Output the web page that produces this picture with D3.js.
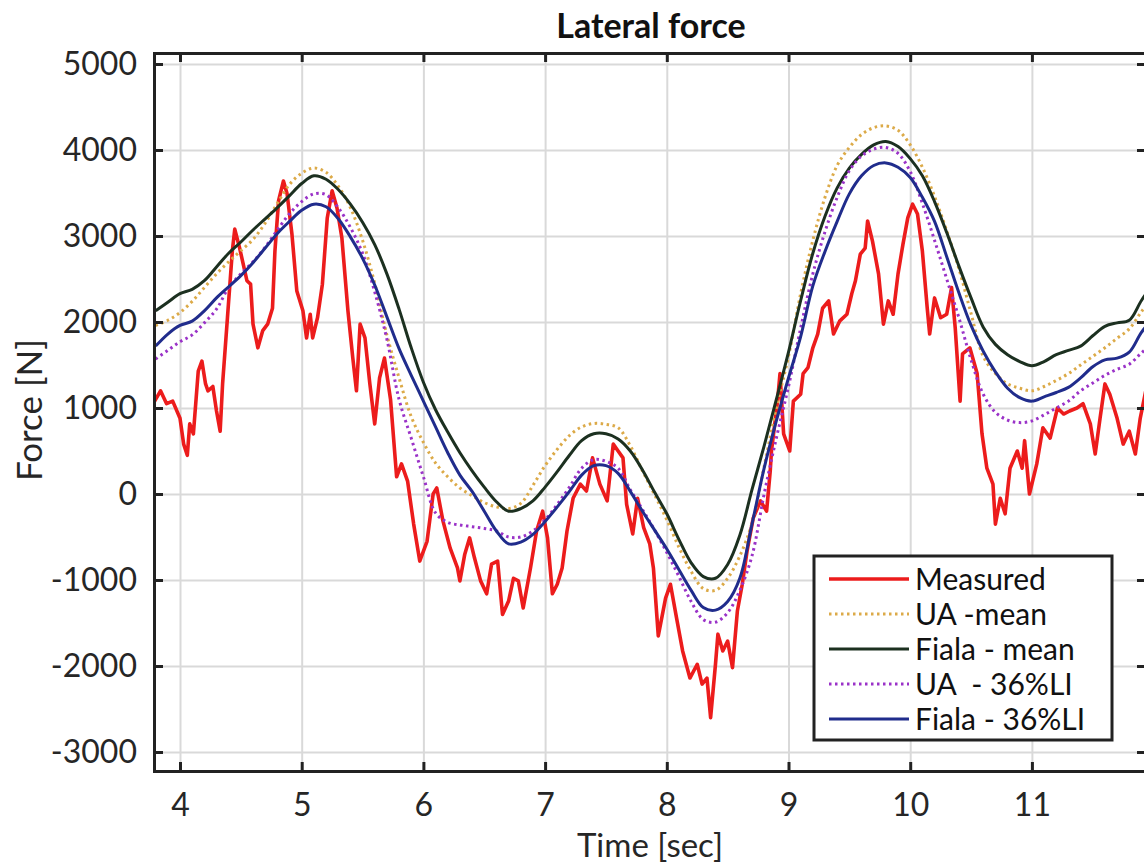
<!DOCTYPE html>
<html lang="en">
<head>
<meta charset="utf-8">
<title>Lateral force</title>
<script src="https://cdn.jsdelivr.net/npm/d3@7"></script>
<style>
body { margin: 0; background: #fff; }
text { font-family: Lato, "Open Sans", sans-serif; fill: #262626; }
.grid line { stroke: #d9d9d9; stroke-width: 2; }
.grid path { display: none; }
.axis path { stroke: #222; stroke-width: 3; }
.axis line { stroke: #222; stroke-width: 3; }
.legend text { white-space: pre; }
</style>
</head>
<body>
<div id="chart"></div>
<script>

// model curves, sampled every 0.1 s
const modelTime = d3.range(38, 121).map(d => d / 10);

const fialaMean = [2130,2230,2330,2380,2480,2640,2800,2930,3070,3200,3330,3470,3610,3700,3660,3540,3370,3160,2900,2560,
  2150,1700,1300,980,720,480,270,80,-90,-200,-170,-80,80,260,450,620,700,700,640,500,
  280,20,-230,-530,-800,-960,-980,-820,-480,50,560,1100,1650,2250,2800,3230,3560,3790,3950,4060,
  4100,4040,3900,3700,3400,3040,2650,2280,1940,1740,1620,1540,1490,1540,1620,1670,1720,1840,1950,1990,
  2020,2250,2450];

const uaMean = [1960,2020,2110,2240,2400,2560,2700,2830,2960,3150,3380,3600,3730,3790,3740,3580,3330,2950,2450,1850,
  1350,900,600,360,200,70,-20,-100,-150,-170,-110,100,330,520,680,780,820,810,770,560,
  270,-10,-300,-620,-900,-1100,-1120,-980,-720,-340,320,1000,1600,2330,2950,3450,3820,4030,4180,4260,
  4280,4230,4060,3800,3460,3060,2620,2100,1600,1400,1280,1230,1200,1250,1320,1400,1500,1600,1700,1810,
  1920,2120,2300];

const fiala36 = [1720,1860,1960,2010,2130,2280,2410,2540,2690,2860,3030,3170,3300,3370,3340,3200,2990,2740,2430,2060,
  1690,1380,1080,780,480,220,30,-200,-430,-580,-560,-470,-320,-150,30,220,330,330,240,30,
  -200,-420,-640,-880,-1120,-1320,-1350,-1250,-980,-350,300,850,1350,1830,2420,2820,3170,3490,3700,3820,
  3850,3800,3680,3450,3170,2760,2340,1960,1660,1420,1230,1120,1080,1130,1180,1240,1350,1480,1560,1580,
  1650,1880,2050];

const ua36 = [1570,1670,1770,1850,1990,2150,2400,2560,2700,2870,3070,3260,3400,3490,3480,3330,3100,2800,2350,1800,
  1100,650,200,-220,-330,-360,-380,-400,-430,-500,-500,-430,-300,-120,80,300,400,380,300,50,
  -180,-420,-680,-960,-1250,-1460,-1490,-1380,-1120,-720,0,650,1250,1930,2560,3050,3450,3760,3930,4010,
  4030,3960,3750,3380,2950,2500,2050,1560,1160,950,860,830,850,920,1000,1080,1200,1290,1380,1450,
  1510,1640,1760];

// measured signal
const measTime = [3.78,3.84,3.89,3.94,4.00,4.03,4.06,4.08,4.11,4.15,4.18,4.21,4.23,4.27,4.30,4.33,4.35,4.39,4.43,4.45,
  4.49,4.55,4.58,4.60,4.64,4.68,4.72,4.76,4.78,4.81,4.85,4.88,4.92,4.96,5.01,5.04,5.07,5.09,5.13,5.17,
  5.21,5.25,5.29,5.33,5.38,5.42,5.45,5.48,5.52,5.56,5.60,5.64,5.68,5.73,5.78,5.82,5.87,5.92,5.97,6.03,
  6.08,6.11,6.16,6.22,6.28,6.30,6.34,6.38,6.42,6.47,6.52,6.56,6.61,6.63,6.65,6.70,6.74,6.78,6.82,6.88,
  6.93,6.98,7.02,7.06,7.10,7.14,7.18,7.23,7.29,7.34,7.39,7.45,7.51,7.56,7.60,7.64,7.67,7.72,7.76,7.81,
  7.86,7.89,7.93,7.99,8.03,8.08,8.13,8.19,8.25,8.29,8.33,8.36,8.40,8.42,8.46,8.50,8.54,8.58,8.62,8.66,
  8.71,8.77,8.82,8.85,8.86,8.91,8.93,8.96,9.01,9.04,9.10,9.12,9.16,9.20,9.24,9.28,9.33,9.37,9.42,9.48,
  9.52,9.55,9.59,9.63,9.65,9.69,9.74,9.78,9.82,9.86,9.90,9.94,9.98,10.02,10.06,10.10,10.14,10.16,10.20,10.25,
  10.30,10.34,10.37,10.41,10.43,10.49,10.55,10.59,10.63,10.68,10.70,10.74,10.78,10.82,10.88,10.92,10.94,10.98,11.04,11.09,
  11.15,11.21,11.26,11.31,11.37,11.42,11.48,11.52,11.56,11.60,11.64,11.70,11.75,11.80,11.85,11.89,11.95];

const measForce = [1050,1200,1050,1080,880,580,450,815,700,1430,1545,1280,1200,1250,965,730,1280,2050,2825,3080,
  2860,2480,2440,1975,1700,1900,1975,2160,2825,3410,3640,3490,3020,2360,2130,1815,2090,1815,2050,2440,
  3210,3525,3325,2980,2130,1580,1200,1975,1815,1280,815,1350,1580,1100,200,350,150,-350,-780,-550,
  0,70,-310,-630,-860,-1010,-700,-510,-745,-1010,-1160,-815,-780,-1090,-1400,-1245,-980,-1010,-1325,-860,
  -430,-200,-510,-1160,-1050,-860,-430,-50,115,35,420,115,-80,580,500,420,-120,-465,-50,-390,
  -580,-860,-1650,-1210,-1050,-1440,-1825,-2140,-1980,-2210,-2140,-2600,-1980,-1630,-1825,-1710,-2020,-1360,-1050,-660,
  -280,-80,-200,270,500,1080,1400,700,500,1080,1160,1400,1470,1700,1860,2160,2245,1860,2010,2090,
  2330,2480,2790,2860,3175,2940,2560,1975,2245,2090,2560,2900,3210,3370,3255,2825,2160,1860,2280,2050,
  2090,2400,1930,1080,1630,1700,1400,700,300,115,-350,-50,-230,300,500,300,620,0,350,770,
  650,1000,930,965,1000,1050,815,465,880,1280,1160,880,580,730,465,880,1300];

const xTicks = [4, 5, 6, 7, 8, 9, 10, 11];
const yTicks = [-3000, -2000, -1000, 0, 1000, 2000, 3000, 4000, 5000];

const seriesNames = ["Measured", "UA -mean", "Fiala - mean", "UA  - 36%LI", "Fiala - 36%LI"];

const W = 1144, H = 863;
const margin = { top: 53, right: -2, bottom: 92, left: 154 };
const w = W - margin.left - margin.right,
      h = H - margin.top - margin.bottom;

const svg = d3.select("#chart").append("svg")
    .attr("width", W)
    .attr("height", H);

const g = svg.append("g")
    .attr("transform", "translate(" + margin.left + "," + margin.top + ")");

const x = d3.scaleLinear().domain([3.7864, 11.9375]).range([0, w]);
const y = d3.scaleLinear().domain([-3221, 5128]).range([h, 0]);

// grid
g.append("g").attr("class", "grid")
    .attr("transform", "translate(0," + h + ")")
    .call(d3.axisBottom(x).tickValues(xTicks).tickSize(-h).tickFormat(""));
g.append("g").attr("class", "grid")
    .call(d3.axisLeft(y).tickValues(yTicks).tickSize(-w).tickFormat(""));

g.append("clipPath").attr("id", "clip")
  .append("rect").attr("width", w).attr("height", h);

const plot = g.append("g").attr("clip-path", "url(#clip)");

const line = d3.line()
    .x(d => x(d[0]))
    .y(d => y(d[1]));

const smooth = d3.line()
    .x(d => x(d[0]))
    .y(d => y(d[1]))
    .curve(d3.curveCatmullRom);

const series = [
  { name: seriesNames[0], color: "#ec1c1c", width: 3.6, dash: null,
    pts: d3.zip(measTime, measForce), gen: line },
  { name: seriesNames[1], color: "#dcaa48", width: 3, dash: "2.5 3.5",
    pts: d3.zip(modelTime, uaMean), gen: smooth },
  { name: seriesNames[2], color: "#1c3020", width: 3, dash: null,
    pts: d3.zip(modelTime, fialaMean), gen: smooth },
  { name: seriesNames[3], color: "#9a32c8", width: 3, dash: "2.5 3.5",
    pts: d3.zip(modelTime, ua36), gen: smooth },
  { name: seriesNames[4], color: "#202c8c", width: 3, dash: null,
    pts: d3.zip(modelTime, fiala36), gen: smooth }
];

series.forEach(s => {
  plot.append("path")
      .attr("d", s.gen(s.pts))
      .attr("fill", "none")
      .attr("stroke", s.color)
      .attr("stroke-width", s.width)
      .attr("stroke-linejoin", "round")
      .attr("stroke-dasharray", s.dash);
});

// axes, ticks pointing inward
const fmt = d => String(d);
const ax = g.append("g").attr("class", "axis")
    .attr("transform", "translate(0," + h + ")")
    .call(d3.axisBottom(x).tickValues(xTicks).tickSize(-9).tickPadding(22).tickFormat(fmt));
ax.selectAll("text").style("font-size", "32px");

const ay = g.append("g").attr("class", "axis")
    .call(d3.axisLeft(y).tickValues(yTicks).tickSize(-9).tickPadding(17).tickFormat(fmt));
ay.selectAll("text").style("font-size", "32px");

g.append("g").attr("class", "axis")
    .call(d3.axisTop(x).tickValues(xTicks).tickSize(-9).tickFormat(""));
g.append("g").attr("class", "axis")
    .attr("transform", "translate(" + w + ",0)")
    .call(d3.axisRight(y).tickValues(yTicks).tickSize(-9).tickFormat(""));

svg.selectAll(".axis .domain").attr("fill", "none");

// titles
svg.append("text")
    .attr("x", 651).attr("y", 38)
    .attr("text-anchor", "middle")
    .style("font-size", "34px").style("font-weight", "bold").style("fill", "#111")
    .text("Lateral force");

svg.append("text")
    .attr("x", 650).attr("y", 857)
    .attr("text-anchor", "middle")
    .style("font-size", "33px")
    .text("Time [sec]");

svg.append("text")
    .attr("transform", "translate(42,410) rotate(-90)")
    .attr("text-anchor", "middle")
    .style("font-size", "35px")
    .text("Force [N]");

// legend
const lg = svg.append("g").attr("class", "legend").attr("transform", "translate(814,556)");
lg.append("rect")
    .attr("width", 298).attr("height", 184)
    .attr("fill", "#fff").attr("stroke", "#222").attr("stroke-width", 3);

series.forEach((s, i) => {
  const yy = 23 + i * 35;
  lg.append("line")
      .attr("x1", 15).attr("x2", 95)
      .attr("y1", yy).attr("y2", yy)
      .attr("stroke", s.color).attr("stroke-width", s.width)
      .attr("stroke-dasharray", s.dash);
  lg.append("text")
      .attr("x", 101).attr("y", yy)
      .attr("dy", "0.36em")
      .style("font-size", "30px")
      .style("fill", "#111")
      .text(s.name);
});

</script>
</body>
</html>
